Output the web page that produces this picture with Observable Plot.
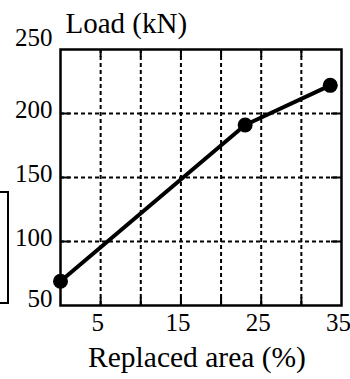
<!DOCTYPE html>
<html>
<head>
<meta charset="utf-8">
<script src="https://cdn.jsdelivr.net/npm/d3@7"></script>
<script src="https://cdn.jsdelivr.net/npm/@observablehq/plot@0.6"></script>
<style>
  html, body { margin: 0; padding: 0; background: #fff; }
  #wrap { position: relative; width: 350px; height: 379px; }
  #bracket { position: absolute; left: -4px; top: 191px; width: 9px; height: 109px; border: 2px solid #000; box-sizing: content-box; }
</style>
</head>
<body>
<div id="wrap"><div id="bracket"></div></div>
<script>
const replacedArea = [0, 23, 33.6];
const load = [69, 191, 222];
const xGrid = [5, 10, 15, 20, 25, 30];
const xTickLabels = [5, 15, 25, 35];
const yGrid = [100, 150, 200];
const yTickLabels = [50, 100, 150, 200, 250];
const yTitle = "Load (kN)";
const xTitle = "Replaced area (%)";

const data = replacedArea.map((x, i) => ({x, y: load[i]}));
const W = 350, H = 379, mL = 60, mR = 9, mT = 49, mB = 74;
const pw = W - mL - mR, ph = H - mT - mB;
const serif = "Liberation Serif";

const chart = Plot.plot({
  width: W, height: H,
  marginLeft: mL, marginRight: mR, marginTop: mT, marginBottom: mB,
  style: {background: "transparent", color: "#000"},
  x: {domain: [0, 35], axis: null},
  y: {domain: [50, 250], axis: null},
  marks: [
    Plot.ruleX(xGrid, {x: d => d, stroke: "#000", strokeWidth: 2, strokeDasharray: "4,3"}),
    Plot.ruleY(yGrid, {y: d => d, stroke: "#000", strokeWidth: 2, strokeDasharray: "4,3"}),
    Plot.ruleX(xGrid, {x: d => d, stroke: "#000", strokeWidth: 2, insetTop: ph - 8}),
    Plot.ruleX(xGrid, {x: d => d, stroke: "#000", strokeWidth: 2, insetBottom: ph - 8}),
    Plot.ruleY(yGrid, {y: d => d, stroke: "#000", strokeWidth: 2, insetRight: pw - 10}),
    Plot.ruleY(yGrid, {y: d => d, stroke: "#000", strokeWidth: 2, insetLeft: pw - 10}),
    Plot.line(data, {x: "x", y: "y", stroke: "#000", strokeWidth: 4}),
    Plot.dot(data, {x: "x", y: "y", r: 7.5, fill: "#000", stroke: "none"}),
    Plot.frame({stroke: "#000", strokeWidth: 2.5}),
    Plot.text(yTickLabels.filter(d => d === 250), {y: d => d, text: d => String(d), frameAnchor: "left", textAnchor: "end", dx: -8, dy: -12, fontSize: 25, fontFamily: serif, fill: "#000"}),
    Plot.text(yTickLabels.filter(d => d > 50 && d < 250), {y: d => d, text: d => String(d), frameAnchor: "left", textAnchor: "end", dx: -8, dy: -4, fontSize: 25, fontFamily: serif, fill: "#000"}),
    Plot.text(yTickLabels.filter(d => d === 50), {y: d => d, text: d => String(d), frameAnchor: "left", textAnchor: "end", dx: -8, dy: -7, fontSize: 25, fontFamily: serif, fill: "#000"}),
    Plot.text(xTickLabels, {x: d => d, text: d => String(d), frameAnchor: "bottom", lineAnchor: "bottom", dx: -3, dy: 25, fontSize: 25, fontFamily: serif, fill: "#000"}),
    Plot.text([yTitle], {frameAnchor: "top-left", textAnchor: "start", lineAnchor: "bottom", dx: 5, dy: -17, fontSize: 29, fontFamily: serif, fill: "#000"}),
    Plot.text([xTitle], {frameAnchor: "bottom", lineAnchor: "bottom", dx: -4, dy: 61, fontSize: 29.5, fontFamily: serif, fill: "#000"})
  ]
});
document.getElementById("wrap").appendChild(chart);
</script>
</body>
</html>
